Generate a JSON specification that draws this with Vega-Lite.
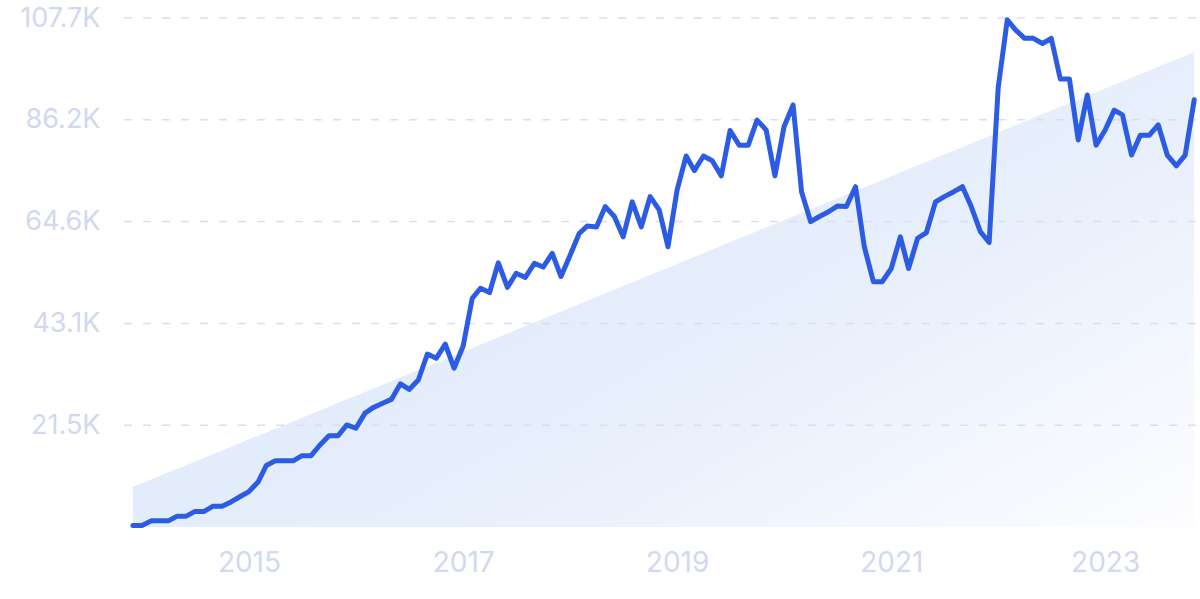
{
  "$schema": "https://vega.github.io/schema/vega-lite/v6.json",
  "width": 1083,
  "height": 509,
  "autosize": {"type": "none"},
  "padding": {"left": 113, "top": 18, "right": 4, "bottom": 72},
  "background": "white",
  "config": {"view": {"stroke": null}, "font": "Inter"},
  "datasets": {
    "trend": [
      {"date": "2013-12-01", "value": 8460},
      {"date": "2023-11-01", "value": 100500}
    ],
    "grid": [
      {"value": 21540}, {"value": 43080}, {"value": 64620}, {"value": 86160}, {"value": 107700}
    ],
    "series": [
      {"date": "2013-12-01", "value": 300},
      {"date": "2014-01-01", "value": 300},
      {"date": "2014-02-01", "value": 1300},
      {"date": "2014-03-01", "value": 1300},
      {"date": "2014-04-01", "value": 1300},
      {"date": "2014-05-01", "value": 2300},
      {"date": "2014-06-01", "value": 2300},
      {"date": "2014-07-01", "value": 3300},
      {"date": "2014-08-01", "value": 3300},
      {"date": "2014-09-01", "value": 4400},
      {"date": "2014-10-01", "value": 4400},
      {"date": "2014-11-01", "value": 5300},
      {"date": "2014-12-01", "value": 6400},
      {"date": "2015-01-01", "value": 7500},
      {"date": "2015-02-01", "value": 9500},
      {"date": "2015-03-01", "value": 13000},
      {"date": "2015-04-01", "value": 14000},
      {"date": "2015-05-01", "value": 14000},
      {"date": "2015-06-01", "value": 14000},
      {"date": "2015-07-01", "value": 15100},
      {"date": "2015-08-01", "value": 15100},
      {"date": "2015-09-01", "value": 17400},
      {"date": "2015-10-01", "value": 19300},
      {"date": "2015-11-01", "value": 19300},
      {"date": "2015-12-01", "value": 21600},
      {"date": "2016-01-01", "value": 20900},
      {"date": "2016-02-01", "value": 24100},
      {"date": "2016-03-01", "value": 25300},
      {"date": "2016-04-01", "value": 26200},
      {"date": "2016-05-01", "value": 27000},
      {"date": "2016-06-01", "value": 30300},
      {"date": "2016-07-01", "value": 29100},
      {"date": "2016-08-01", "value": 31100},
      {"date": "2016-09-01", "value": 36600},
      {"date": "2016-10-01", "value": 35700},
      {"date": "2016-11-01", "value": 38700},
      {"date": "2016-12-01", "value": 33600},
      {"date": "2017-01-01", "value": 38300},
      {"date": "2017-02-01", "value": 48400},
      {"date": "2017-03-01", "value": 50500},
      {"date": "2017-04-01", "value": 49600},
      {"date": "2017-05-01", "value": 55900},
      {"date": "2017-06-01", "value": 50700},
      {"date": "2017-07-01", "value": 53700},
      {"date": "2017-08-01", "value": 52800},
      {"date": "2017-09-01", "value": 55800},
      {"date": "2017-10-01", "value": 55000},
      {"date": "2017-11-01", "value": 57900},
      {"date": "2017-12-01", "value": 53000},
      {"date": "2018-01-01", "value": 57500},
      {"date": "2018-02-01", "value": 62100},
      {"date": "2018-03-01", "value": 63700},
      {"date": "2018-04-01", "value": 63500},
      {"date": "2018-05-01", "value": 67800},
      {"date": "2018-06-01", "value": 65700},
      {"date": "2018-07-01", "value": 61400},
      {"date": "2018-08-01", "value": 68800},
      {"date": "2018-09-01", "value": 63500},
      {"date": "2018-10-01", "value": 69900},
      {"date": "2018-11-01", "value": 67100},
      {"date": "2018-12-01", "value": 59300},
      {"date": "2019-01-01", "value": 71300},
      {"date": "2019-02-01", "value": 78500},
      {"date": "2019-03-01", "value": 75400},
      {"date": "2019-04-01", "value": 78500},
      {"date": "2019-05-01", "value": 77500},
      {"date": "2019-06-01", "value": 74300},
      {"date": "2019-07-01", "value": 83900},
      {"date": "2019-08-01", "value": 80800},
      {"date": "2019-09-01", "value": 80800},
      {"date": "2019-10-01", "value": 86100},
      {"date": "2019-11-01", "value": 84000},
      {"date": "2019-12-01", "value": 74300},
      {"date": "2020-01-01", "value": 84700},
      {"date": "2020-02-01", "value": 89300},
      {"date": "2020-03-01", "value": 70900},
      {"date": "2020-04-01", "value": 64600},
      {"date": "2020-05-01", "value": 65700},
      {"date": "2020-06-01", "value": 66700},
      {"date": "2020-07-01", "value": 67900},
      {"date": "2020-08-01", "value": 67800},
      {"date": "2020-09-01", "value": 72000},
      {"date": "2020-10-01", "value": 59300},
      {"date": "2020-11-01", "value": 51900},
      {"date": "2020-12-01", "value": 51900},
      {"date": "2021-01-01", "value": 54700},
      {"date": "2021-02-01", "value": 61400},
      {"date": "2021-03-01", "value": 54700},
      {"date": "2021-04-01", "value": 61100},
      {"date": "2021-05-01", "value": 62300},
      {"date": "2021-06-01", "value": 68800},
      {"date": "2021-07-01", "value": 69900},
      {"date": "2021-08-01", "value": 70900},
      {"date": "2021-09-01", "value": 72000},
      {"date": "2021-10-01", "value": 67800},
      {"date": "2021-11-01", "value": 62500},
      {"date": "2021-12-01", "value": 60200},
      {"date": "2022-01-01", "value": 93000},
      {"date": "2022-02-01", "value": 107300},
      {"date": "2022-03-01", "value": 105200},
      {"date": "2022-04-01", "value": 103400},
      {"date": "2022-05-01", "value": 103400},
      {"date": "2022-06-01", "value": 102300},
      {"date": "2022-07-01", "value": 103400},
      {"date": "2022-08-01", "value": 94800},
      {"date": "2022-09-01", "value": 94800},
      {"date": "2022-10-01", "value": 81900},
      {"date": "2022-11-01", "value": 91400},
      {"date": "2022-12-01", "value": 80800},
      {"date": "2023-01-01", "value": 84000},
      {"date": "2023-02-01", "value": 88200},
      {"date": "2023-03-01", "value": 87200},
      {"date": "2023-04-01", "value": 78700},
      {"date": "2023-05-01", "value": 82900},
      {"date": "2023-06-01", "value": 82900},
      {"date": "2023-07-01", "value": 85100},
      {"date": "2023-08-01", "value": 78700},
      {"date": "2023-09-01", "value": 76400},
      {"date": "2023-10-01", "value": 78700},
      {"date": "2023-11-01", "value": 90400}
    ]
  },
  "encoding": {
    "x": {
      "field": "date",
      "type": "temporal",
      "scale": {
        "type": "utc",
        "domain": [
          {"year": 2013, "month": 9, "date": 24, "utc": true},
          {"year": 2023, "month": 11, "date": 7, "utc": true}
        ]
      },
      "axis": {
        "values": [
          {"year": 2015, "month": 1, "date": 1, "utc": true},
          {"year": 2017, "month": 1, "date": 1, "utc": true},
          {"year": 2019, "month": 1, "date": 1, "utc": true},
          {"year": 2021, "month": 1, "date": 1, "utc": true},
          {"year": 2023, "month": 1, "date": 1, "utc": true}
        ],
        "labelExpr": "utcFormat(datum.value, '%Y')",
        "title": null,
        "grid": false,
        "domain": false,
        "ticks": false,
        "labelFontSize": 28,
        "labelColor": "#d1d8f0",
        "labelFont": "Inter",
        "labelBaseline": "middle",
        "labelPadding": 36,
        "labelFlush": false
      }
    },
    "y": {
      "field": "value",
      "type": "quantitative",
      "scale": {"domain": [0, 107700], "nice": false, "zero": true},
      "axis": {
        "values": [21540, 43080, 64620, 86160, 107700],
        "labelExpr": "format(datum.value / 1000, '.1f') + 'K'",
        "title": null,
        "grid": false,
        "domain": false,
        "ticks": false,
        "labelFontSize": 27,
        "labelColor": "#d1d8f0",
        "labelFont": "Inter",
        "labelPadding": 13,
        "labelFlush": false
      }
    }
  },
  "layer": [
    {
      "data": {"name": "trend"},
      "mark": {
        "type": "area",
        "line": false,
        "color": {
          "gradient": "linear",
          "x1": 0, "y1": 0.2, "x2": 1, "y2": 1,
          "stops": [
            {"offset": 0, "color": "#dae6f9"},
            {"offset": 0.6, "color": "#e9f0fc"},
            {"offset": 1, "color": "#fdfdff"}
          ]
        }
      }
    },
    {
      "data": {"name": "grid"},
      "mark": {"type": "rule", "color": "#d9def2", "strokeWidth": 1.5, "strokeDash": [8, 11]},
      "encoding": {
        "x": null,
        "y": {"field": "value", "type": "quantitative"}
      }
    },
    {
      "data": {"name": "series"},
      "mark": {"type": "line", "color": "#2d5ce4", "strokeWidth": 5, "strokeJoin": "round", "strokeCap": "round"}
    }
  ]
}
